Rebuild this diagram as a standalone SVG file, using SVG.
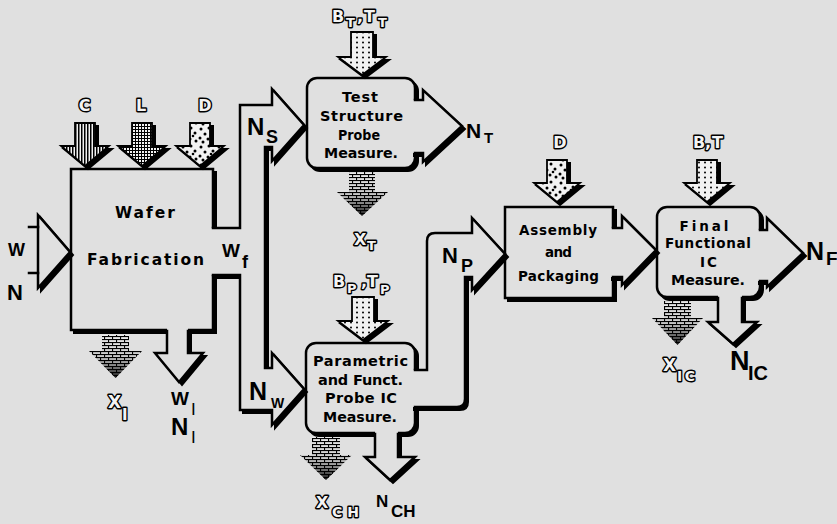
<svg xmlns="http://www.w3.org/2000/svg" width="837" height="524" viewBox="0 0 837 524">
<defs>
<style>
.sh{fill:#000;stroke:#000;stroke-width:2}
.bx{fill:#e0e0e0;stroke:#000;stroke-width:2.5}
.fl{fill:#e0e0e0}
.st{fill:none;stroke:#000;stroke-width:2.5;stroke-linejoin:miter;stroke-linecap:square}
.ia{stroke:#000;stroke-width:1.8;stroke-linejoin:miter}
.bk{fill:url(#brick)}
.dk{fill:url(#dark)}
.t{font-family:"DejaVu Sans","Liberation Sans",sans-serif;font-weight:bold;text-anchor:middle;fill:#000}
.lb{font-family:"Liberation Sans",Arial,sans-serif;font-weight:bold;fill:#000}
.thin{font-family:"Liberation Sans",Arial,sans-serif;font-weight:normal;fill:#000}
.ol{font-family:"DejaVu Sans","Liberation Sans",sans-serif;font-weight:bold;fill:#f4f4f4;stroke:#000;stroke-width:2.8;paint-order:stroke;stroke-linejoin:round}
</style>
<pattern id="vstripe" width="3" height="4" patternUnits="userSpaceOnUse"><rect width="3" height="4" fill="#f2f2f2"/><rect width="1.5" height="4" fill="#000"/></pattern>
<pattern id="grid" width="3" height="3" patternUnits="userSpaceOnUse"><rect width="3" height="3" fill="#f2f2f2"/><rect width="3" height="1" fill="#000"/><rect width="1" height="3" fill="#000"/></pattern>
<pattern id="rdots" width="18" height="18" patternUnits="userSpaceOnUse"><rect width="18" height="18" fill="#f2f2f2"/><g fill="#000"><circle cx="3" cy="3" r="1.5"/><circle cx="11" cy="2" r="1.5"/><circle cx="7" cy="8" r="1.5"/><circle cx="15" cy="7" r="1.5"/><circle cx="2" cy="12" r="1.5"/><circle cx="10" cy="13" r="1.5"/><circle cx="16" cy="15" r="1.5"/><circle cx="5" cy="16" r="1.5"/><circle cx="13" cy="10" r="1.3"/></g></pattern>
<pattern id="dots" width="6" height="5" patternUnits="userSpaceOnUse"><rect width="6" height="5" fill="#f2f2f2"/><circle cx="3" cy="2.5" r="1" fill="#000"/></pattern>
<pattern id="brick" width="8" height="6" patternUnits="userSpaceOnUse"><rect width="8" height="6" fill="#ececec"/><g fill="#000"><rect width="8" height="1.1"/><rect y="3" width="8" height="1.1"/><rect width="1.1" height="3"/><rect x="4" y="3" width="1.1" height="3"/></g></pattern>
<linearGradient id="dark" x1="0" y1="0" x2="0" y2="1"><stop offset="0" stop-color="#000" stop-opacity="0"/><stop offset="0.5" stop-color="#000" stop-opacity="0.15"/><stop offset="0.7" stop-color="#000" stop-opacity="0.4"/><stop offset="1" stop-color="#000" stop-opacity="0.9"/></linearGradient>
</defs>
<rect width="837" height="524" fill="#e0e0e0"/>

<g id="wafer-fabrication">
<rect class="sh" x="74" y="172" width="142" height="161"/>
<rect class="bx" x="71" y="169" width="142" height="161"/>
<text class="t" font-size="15.5" x="145" y="218" textLength="60">Wafer</text>
<text class="t" font-size="15.5" x="145.5" y="265" textLength="117">Fabrication</text>
</g>

<g id="test-structure-probe">
<rect class="sh" x="310" y="81" width="108" height="90" rx="10"/>
<rect class="bx" x="307" y="78" width="108" height="90" rx="10"/>
<text class="t" font-size="14.5" x="360" y="102" textLength="36">Test</text>
<text class="t" font-size="14.5" x="361.5" y="121" textLength="83">Structure</text>
<text class="t" font-size="14.5" x="359" y="140" textLength="42" lengthAdjust="spacingAndGlyphs">Probe</text>
<text class="t" font-size="14.5" x="361" y="158" textLength="74" lengthAdjust="spacingAndGlyphs">Measure.</text>
</g>

<g id="parametric-probe">
<rect class="sh" x="309" y="346" width="109" height="90" rx="10"/>
<rect class="bx" x="306" y="343" width="109" height="90" rx="10"/>
<text class="t" font-size="14.5" x="360.5" y="366" textLength="95">Parametric</text>
<text class="t" font-size="14.5" x="360.5" y="385" textLength="85">and Funct.</text>
<text class="t" font-size="14.5" x="361" y="403" textLength="72">Probe IC</text>
<text class="t" font-size="14.5" x="360" y="422" textLength="74" lengthAdjust="spacingAndGlyphs">Measure.</text>
</g>

<g id="assembly-packaging">
<rect class="sh" x="508" y="210" width="108" height="91"/>
<rect class="bx" x="505" y="207" width="108" height="91"/>
<text class="t" font-size="13.5" x="558" y="235" textLength="78">Assembly</text>
<text class="t" font-size="13.5" x="558.5" y="257" textLength="27">and</text>
<text class="t" font-size="13.5" x="558.5" y="281" textLength="81">Packaging</text>
</g>

<g id="final-functional">
<rect class="sh" x="660" y="210" width="103" height="90" rx="10"/>
<rect class="bx" x="657" y="207" width="103" height="90" rx="10"/>
<text class="t" font-size="13.5" x="704" y="231" textLength="49">Final</text>
<text class="t" font-size="13.5" x="708" y="248" textLength="86">Functional</text>
<text class="t" font-size="13.5" x="708.5" y="267" textLength="17">IC</text>
<text class="t" font-size="13.5" x="708" y="285" textLength="74" lengthAdjust="spacingAndGlyphs">Measure.</text>
</g>

<g id="connectors">
<polygon class="sh" transform="translate(3,3)" points="38,215 70,252 38,288"/>
<polygon class="bx" points="38,215 70,252 38,288"/>
<path class="st" d="M29,227 L38,227 M29,273 L38,273"/>

<path class="sh" transform="translate(3,3)" d="M211,228 L240,228 L240,105 L272,105 L272,89 L304,125 L272,161 L272,147 L265,147 L265,368 L272,368 L272,353 L304,389 L272,425 L272,410 L240,410 L240,275 L211,275 Z"/>
<path class="fl" d="M211,228 L240,228 L240,105 L272,105 L272,89 L304,125 L272,161 L272,147 L265,147 L265,368 L272,368 L272,353 L304,389 L272,425 L272,410 L240,410 L240,275 L211,275 Z"/>
<path class="st" d="M213,228 L240,228 L240,105 L272,105 L272,89 L304,125 L272,161 L272,147 L265,147 L265,368 L272,368 L272,353 L304,389 L272,425 L272,410 L240,410 L240,275 L213,275"/>

<path class="sh" transform="translate(3,3)" d="M411,100 L423,100 L423,90 L462,126 L423,162 L423,153 L411,153 Z"/>
<path class="fl" d="M411,100 L423,100 L423,90 L462,126 L423,162 L423,153 L411,153 Z"/>
<path class="st" d="M415,100 L423,100 L423,90 L462,126 L423,162 L423,153 L415,153"/>

<path class="sh" transform="translate(3,3)" d="M411,370 L427,370 L427,241 Q427,233 435,233 L472,233 L472,218 L505,254 L472,290 L472,277 L465,277 L465,399 Q465,407 457,407 L411,407 Z"/>
<path class="fl" d="M411,370 L427,370 L427,241 Q427,233 435,233 L472,233 L472,218 L505,254 L472,290 L472,277 L465,277 L465,399 Q465,407 457,407 L411,407 Z"/>
<path class="st" d="M415,370 L427,370 L427,241 Q427,233 435,233 L472,233 L472,218 L505,254 L472,290 L472,277 L465,277 L465,399 Q465,407 457,407 L415,407"/>

<path class="sh" transform="translate(3,3)" d="M609,228 L622,228 L622,216 L656,250 L622,285 L622,277 L609,277 Z"/>
<path class="fl" d="M609,228 L622,228 L622,216 L656,250 L622,285 L622,277 L609,277 Z"/>
<path class="st" d="M613,228 L622,228 L622,216 L656,250 L622,285 L622,277 L613,277"/>

<path class="sh" transform="translate(3,3)" d="M756,230 L767,230 L767,218 L803,253 L767,287 L767,281 L756,281 Z"/>
<path class="fl" d="M756,230 L767,230 L767,218 L803,253 L767,287 L767,281 L756,281 Z"/>
<path class="st" d="M760,230 L767,230 L767,218 L803,253 L767,287 L767,281 L760,281"/>

<path class="sh" transform="translate(3,3)" d="M167,327 L167,353 L155,353 L179,382 L203,353 L188,353 L188,327 Z"/>
<path class="fl" d="M167,327 L167,353 L155,353 L179,382 L203,353 L188,353 L188,327 Z"/>
<path class="st" d="M167,331 L167,353 L155,353 L179,382 L203,353 L188,353 L188,331"/>

<path class="sh" transform="translate(3,3)" d="M375,430 L375,457 L365,457 L390,480 L415,457 L398,457 L398,430 Z"/>
<path class="fl" d="M375,430 L375,457 L365,457 L390,480 L415,457 L398,457 L398,430 Z"/>
<path class="st" d="M375,434 L375,457 L365,457 L390,480 L415,457 L398,457 L398,434"/>

<path class="sh" transform="translate(3,3)" d="M718,294 L718,322 L708,322 L733,344 L757,322 L742,322 L742,294 Z"/>
<path class="fl" d="M718,294 L718,322 L708,322 L733,344 L757,322 L742,322 L742,294 Z"/>
<path class="st" d="M718,298 L718,322 L708,322 L733,344 L757,322 L742,322 L742,298"/>

<path class="sh" transform="translate(3,3)" d="M75,123 L95,123 L95,146 L109,146 L85,166 L61,146 L75,146 Z"/>
<path class="ia" fill="url(#vstripe)" d="M75,123 L95,123 L95,146 L109,146 L85,166 L61,146 L75,146 Z"/>
<path class="sh" transform="translate(3,3)" d="M132,123 L152,123 L152,146 L166,146 L142,166 L118,146 L132,146 Z"/>
<path class="ia" fill="url(#grid)" d="M132,123 L152,123 L152,146 L166,146 L142,166 L118,146 L132,146 Z"/>
<path class="sh" transform="translate(3,3)" d="M190,123 L210,123 L210,146 L224,146 L200,166 L176,146 L190,146 Z"/>
<path class="ia" fill="url(#rdots)" d="M190,123 L210,123 L210,146 L224,146 L200,166 L176,146 L190,146 Z"/>
<path class="sh" transform="translate(3,3)" d="M351,32 L373,32 L373,57 L386,57 L362,75 L338,57 L351,57 Z"/>
<path class="ia" fill="url(#dots)" d="M351,32 L373,32 L373,57 L386,57 L362,75 L338,57 L351,57 Z"/>
<path class="sh" transform="translate(3,3)" d="M352,297 L374,297 L374,321 L388,321 L363,340 L338,321 L352,321 Z"/>
<path class="ia" fill="url(#dots)" d="M352,297 L374,297 L374,321 L388,321 L363,340 L338,321 L352,321 Z"/>
<path class="sh" transform="translate(3,3)" d="M547,160 L567,160 L567,183 L580,183 L557,202 L534,183 L547,183 Z"/>
<path class="ia" fill="url(#rdots)" d="M547,160 L567,160 L567,183 L580,183 L557,202 L534,183 L547,183 Z"/>
<path class="sh" transform="translate(3,3)" d="M697,160 L717,160 L717,183 L730,183 L707,202 L684,183 L697,183 Z"/>
<path class="ia" fill="url(#dots)" d="M697,160 L717,160 L717,183 L730,183 L707,202 L684,183 L697,183 Z"/>

<path class="bk" d="M102,335 L129,335 L129,351 L142,351 L115.5,378 L89,351 L102,351 Z"/>
<path class="dk" d="M102,335 L129,335 L129,351 L142,351 L115.5,378 L89,351 L102,351 Z"/>
<path class="bk" d="M349,172 L375,172 L375,192 L388,192 L362,216 L337,192 L349,192 Z"/>
<path class="dk" d="M349,172 L375,172 L375,192 L388,192 L362,216 L337,192 L349,192 Z"/>
<path class="bk" d="M312,437 L340,437 L340,455 L352,455 L326,480 L300,455 L312,455 Z"/>
<path class="dk" d="M312,437 L340,437 L340,455 L352,455 L326,480 L300,455 L312,455 Z"/>
<path class="bk" d="M664,301 L691,301 L691,318 L703,318 L677.5,345 L652,318 L664,318 Z"/>
<path class="dk" d="M664,301 L691,301 L691,318 L703,318 L677.5,345 L652,318 L664,318 Z"/>

<text class="lb" font-size="18" x="8" y="256">W</text>
<text class="lb" font-size="22" x="7" y="300">N</text>

<text class="ol" font-size="16" x="84.5" y="111" text-anchor="middle">C</text>
<text class="ol" font-size="16" x="141" y="111" text-anchor="middle">L</text>
<text class="ol" font-size="16" x="205" y="111" text-anchor="middle">D</text>

<text class="ol" font-size="16" x="332" y="22">B</text>
<text class="ol" font-size="13" x="346" y="27">T</text>
<text class="ol" font-size="16" x="357" y="22">,</text>
<text class="ol" font-size="16" x="364" y="22">T</text>
<text class="ol" font-size="13" x="378" y="27">T</text>

<text class="ol" font-size="16" x="333" y="287">B</text>
<text class="ol" font-size="13" x="347" y="293">P</text>
<text class="ol" font-size="16" x="361" y="287">,</text>
<text class="ol" font-size="16" x="367" y="287">T</text>
<text class="ol" font-size="13" x="380" y="294">P</text>

<text class="ol" font-size="16" x="560" y="148" text-anchor="middle">D</text>
<text class="ol" font-size="16" x="693" y="148">B</text>
<text class="ol" font-size="16" x="705" y="148">,</text>
<text class="ol" font-size="16" x="712" y="148">T</text>

<text class="ol" font-size="17" x="108" y="408">X</text>
<text class="ol" font-size="15" x="122" y="420">I</text>
<text class="ol" font-size="16" x="354" y="245">X</text>
<text class="ol" font-size="13" x="367" y="250">T</text>
<text class="ol" font-size="16" x="316" y="508">X</text>
<text class="ol" font-size="14" x="332" y="517" textLength="27">CH</text>
<text class="ol" font-size="17" x="663" y="371">X</text>
<text class="ol" font-size="14" x="677" y="381" textLength="18">IC</text>

<text class="lb" font-size="19" x="222" y="257">W</text>
<text class="lb" font-size="18" x="242" y="268">f</text>
<text class="lb" font-size="24" x="247" y="135">N</text>
<text class="lb" font-size="18" x="266" y="143">S</text>
<text class="lb" font-size="25" x="249" y="400">N</text>
<text class="lb" font-size="14" x="271" y="408">W</text>
<text class="lb" font-size="21" x="466" y="138">N</text>
<text class="lb" font-size="15" x="484" y="143">T</text>
<text class="lb" font-size="22" x="442" y="263">N</text>
<text class="lb" font-size="18" x="461" y="272">P</text>
<text class="lb" font-size="25" x="806" y="260">N</text>
<text class="lb" font-size="19" x="826" y="265">F</text>
<text class="lb" font-size="27" x="730" y="370">N</text>
<text class="lb" font-size="20" x="748" y="380">IC</text>
<text class="lb" font-size="17" x="376" y="507">N</text>
<text class="lb" font-size="17" x="391" y="517">CH</text>
<text class="lb" font-size="19" x="171" y="405">W</text>
<text class="thin" font-size="17" x="191" y="415">I</text>
<text class="lb" font-size="24" x="171" y="435">N</text>
<text class="thin" font-size="17" x="191" y="443">I</text>
</g>
</svg>
